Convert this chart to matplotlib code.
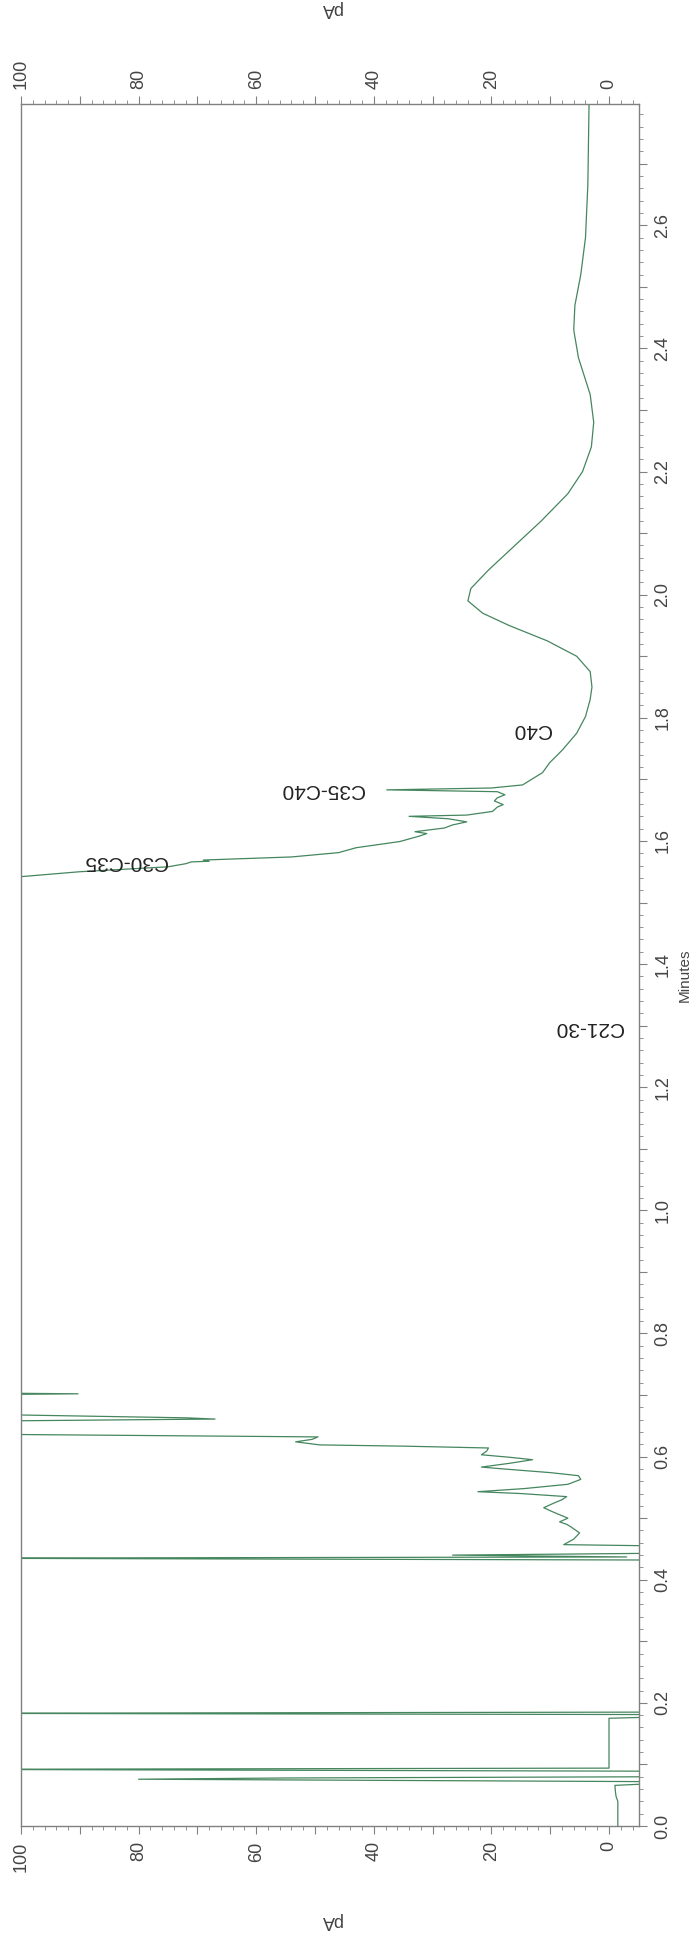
import matplotlib
matplotlib.use("Agg")
import matplotlib.pyplot as plt
from matplotlib.ticker import MultipleLocator, FuncFormatter

plt.rcParams['font.family'] = ['Liberation Sans', 'DejaVu Sans']

# retention time (minutes) and detector signal (pA); values past the scale are off-chart
minutes = [0.000, 0.040, 0.048, 0.055, 0.066, 0.069, 0.072, 0.076, 0.078, 0.080,
           0.089, 0.092, 0.094, 0.175, 0.177, 0.181, 0.183, 0.185, 0.432, 0.435,
           0.437, 0.440, 0.443, 0.455, 0.457, 0.466, 0.476, 0.486, 0.490, 0.494,
           0.500, 0.510, 0.517, 0.524, 0.530, 0.535, 0.540, 0.543, 0.548, 0.555,
           0.563, 0.569, 0.574, 0.580, 0.583, 0.589, 0.595, 0.599, 0.603, 0.609,
           0.614, 0.617, 0.619, 0.624, 0.628, 0.632, 0.637, 0.657, 0.661, 0.663,
           0.670, 0.700, 0.702, 0.704, 1.540,
           1.542, 1.550, 1.558, 1.563, 1.566, 1.567, 1.569, 1.574, 1.581, 1.589,
           1.599, 1.608, 1.612, 1.615, 1.621, 1.626, 1.631, 1.636, 1.640, 1.642,
           1.648, 1.655, 1.659, 1.665, 1.670, 1.675, 1.680, 1.683, 1.686, 1.691,
           1.711, 1.727, 1.748, 1.775, 1.802, 1.830, 1.850, 1.875, 1.900, 1.925,
           1.950, 1.970, 1.990, 2.010, 2.040, 2.080, 2.120, 2.164, 2.200, 2.240,
           2.280, 2.325, 2.385, 2.430, 2.470, 2.520, 2.580, 2.666, 2.795]
signal = [-1.5, -1.5, -1.2, -1.1, -1.0, -8, -8, 80, 55, -8,
          -8, 115, 0.0, 0.0, -8, -8, 115, -8, -8, 115,
          -3, 26.6, -8, -8, 7.7, 6.0, 5.0, 6.5, 7.2, 8.4,
          7.0, 9.5, 11.1, 9.5, 8.0, 7.2, 15.0, 22.3, 14.5, 7.0,
          4.8, 5.2, 10.0, 18.0, 21.7, 17.0, 13.0, 17.0, 21.7, 20.8,
          20.5, 35.0, 49.2, 53.3, 50.5, 49.5, 115, 115, 67, 72,
          115, 115, 90.3, 115, 115,
          100, 90, 75, 72, 71, 68, 69, 54, 46, 43,
          35.6, 32.2, 31, 33, 28, 26.6, 24.2, 27.3, 34, 24.2,
          19.8, 19, 18, 19.5, 19, 17.7, 19, 37.8, 20, 14.7,
          11.3, 10.1, 7.9, 5.5, 4.0, 3.2, 2.9, 3.2, 5.5, 10.5,
          17.0, 21.5, 24.0, 23.5, 20.5, 16.0, 11.5, 7.0, 4.5, 3.0,
          2.6, 3.2, 5.2, 6.0, 5.8, 4.8, 4.0, 3.6, 3.4]

peak_labels = ["C21-30", "C30-C35", "C35-C40", "C40"]
label_minutes = [1.297, 1.566, 1.683, 1.781]
label_signal = [3.5, 82.2, 48.8, 13.2]

fig = plt.figure(figsize=(6.97, 19.37), dpi=100)
ax = fig.add_axes([21 / 697, 111 / 1937, 618 / 697, 1722 / 1937])

ax.plot(signal, minutes, color='#45865e', lw=0.9)

ax.set_xlim(100, -5.1)
ax.set_ylim(0, 2.797)

for s in ax.spines.values():
    s.set_color('#808080')
    s.set_linewidth(1.0)

# pA axis on top and bottom, minutes on the right
ax.xaxis.set_major_locator(MultipleLocator(10))
ax.xaxis.set_minor_locator(MultipleLocator(2))
ax.xaxis.set_major_formatter(FuncFormatter(lambda v, p: f"{v:.0f}" if round(v) % 20 == 0 else ""))
ax.yaxis.set_major_locator(MultipleLocator(0.1))
ax.yaxis.set_minor_locator(MultipleLocator(0.02))
ax.yaxis.set_major_formatter(FuncFormatter(lambda v, p: f"{v:.1f}" if round(v * 10) % 2 == 0 else ""))
ax.yaxis.tick_right()

ax.tick_params(axis='x', which='both', top=True, bottom=True, labeltop=True, labelbottom=True,
               direction='out', color='#808080', labelrotation=90, labelcolor='#444444', labelsize=13)
ax.tick_params(axis='y', which='both', left=False, right=True, labelright=True, labelleft=False,
               direction='out', color='#808080', labelrotation=90, labelcolor='#444444', labelsize=13)
ax.tick_params(which='major', length=6, pad=5)
ax.tick_params(which='minor', length=3)
for lab in ax.get_yticklabels():
    lab.set_va('center')

for txt, t, v in zip(peak_labels, label_minutes, label_signal):
    ax.text(v, t, txt, rotation=180, ha='center', va='center', fontsize=15, color='#222222')

fig.text(331 / 697, 1 - 9 / 1937, "pA", rotation=180, ha='center', va='center', fontsize=13, color='#444444')
fig.text(331 / 697, 1 - 1920 / 1937, "pA", rotation=180, ha='center', va='center', fontsize=13, color='#444444')
fig.text(685 / 697, 1 - 975 / 1937, "Minutes", rotation=90, ha='center', va='center', fontsize=11, color='#444444')

fig.savefig("out.png", dpi=100, facecolor='white')
